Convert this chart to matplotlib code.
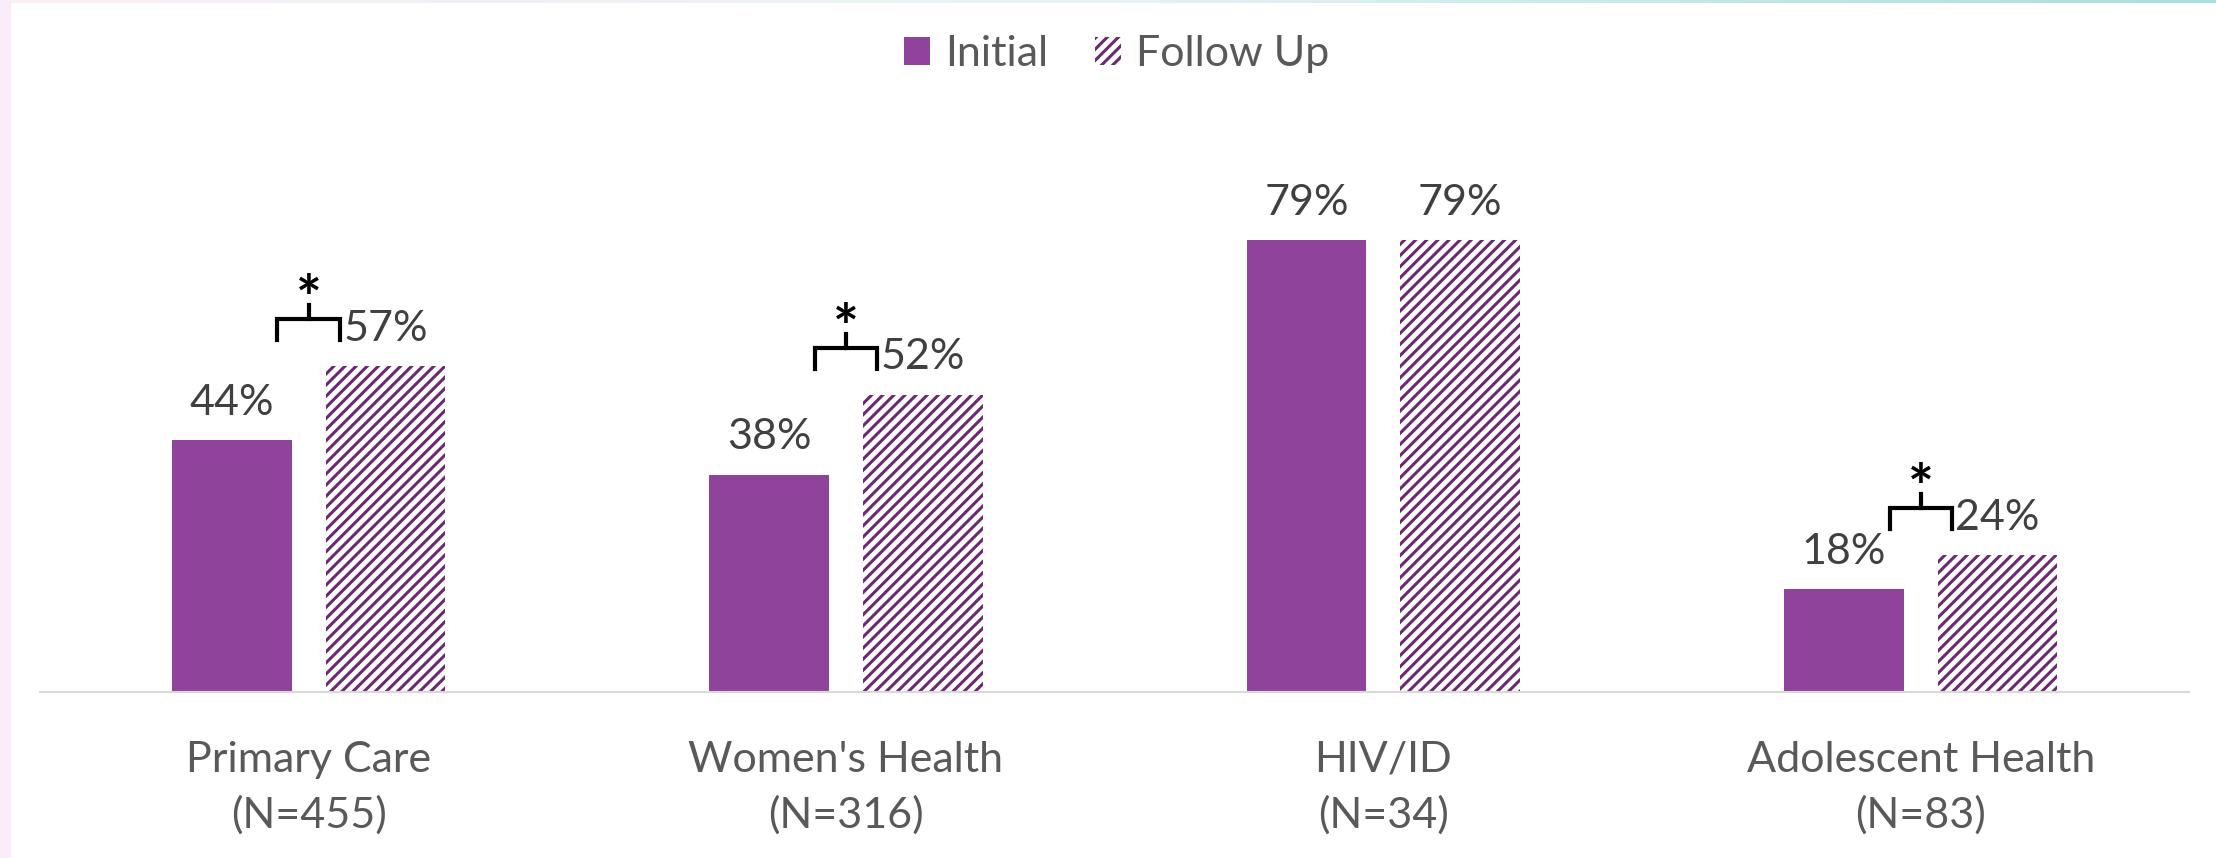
import numpy as np
import matplotlib
matplotlib.use('Agg')
from matplotlib import pyplot as plt
from matplotlib.patches import Rectangle

# data
categories = ["Primary Care\n(N=455)", "Women's Health\n(N=316)", "HIV/ID\n(N=34)", "Adolescent Health\n(N=83)"]
initial = [44, 38, 79, 18]
follow_up = [57, 52, 79, 24]
significant = [True, True, False, True]

plt.rcParams['font.family'] = ['Lato', 'DejaVu Sans']
plt.rcParams['hatch.linewidth'] = 2.2

purple = '#90439A'
hatch_purple = '#6B2A70'
label_grey = '#404040'
text_grey = '#595959'

fig = plt.figure(figsize=(22.16, 8.58), dpi=100)
fig.set_facecolor('white')

# faint slide decorations (left strip and top band)
fig.patches.append(Rectangle((0, 0), 0.005, 1, transform=fig.transFigure,
                             facecolor='#F8EDF8', edgecolor='none', zorder=0))
band = fig.add_axes([0, 0.996, 1, 0.004])
band.imshow(np.linspace(0, 1, 256).reshape(1, -1), aspect='auto',
            cmap=matplotlib.colors.LinearSegmentedColormap.from_list('b', ['#FBEFF8', '#E6F3F4', '#A8DEDC']))
band.axis('off')

ax = fig.add_axes([0.018, 1 - 692 / 858, 0.970, 572 / 858])
x = np.arange(len(categories))
w = 0.223
off = 0.143

ax.bar(x - off, initial, w, color=purple, label='Initial', zorder=2)
ax.bar(x + off, follow_up, w, facecolor='white', edgecolor=hatch_purple, linewidth=0,
       hatch='///', label='Follow Up', zorder=2)

# value labels
for i in range(len(categories)):
    ax.text(x[i] - off, initial[i] + 6.5, f"{initial[i]}%", ha='center', va='center',
            fontsize=31, color=label_grey)
    ax.text(x[i] + off, follow_up[i] + 6.5, f"{follow_up[i]}%", ha='center', va='center',
            fontsize=31, color=label_grey)

# significance brackets
for i in range(len(categories)):
    if not significant[i]:
        continue
    top = follow_up[i] + 8.2
    bot = follow_up[i] + 4.5
    half = 0.058
    ax.plot([x[i] - half, x[i] - half, x[i] + half, x[i] + half], [bot, top, top, bot],
            color='black', linewidth=3, solid_joinstyle='miter', zorder=3)
    ax.plot([x[i], x[i]], [top, top + 2.4], color='black', linewidth=3, zorder=3)
    ax.text(x[i], top + 2.9, '*', ha='center', va='center', fontsize=44,
            fontweight='bold', color='black')

ax.set_xlim(-0.5, 3.5)
ax.set_ylim(0, 100)
for s in ['top', 'right', 'left']:
    ax.spines[s].set_visible(False)
ax.spines['bottom'].set_color('#D9D9D9')
ax.spines['bottom'].set_linewidth(1.5)
ax.set_yticks([])
ax.set_xticks(x)
ax.set_xticklabels(categories, fontsize=31, color=text_grey, linespacing=1.5)
ax.tick_params(axis='x', length=0, pad=35)

fig.legend(loc='center', bbox_to_anchor=(0.504, 0.937), ncol=2, frameon=False,
           fontsize=31, handlelength=0.6, handleheight=0.6, handletextpad=0.35,
           columnspacing=1.1, labelcolor=text_grey)

fig.savefig('out.png', dpi=100)
